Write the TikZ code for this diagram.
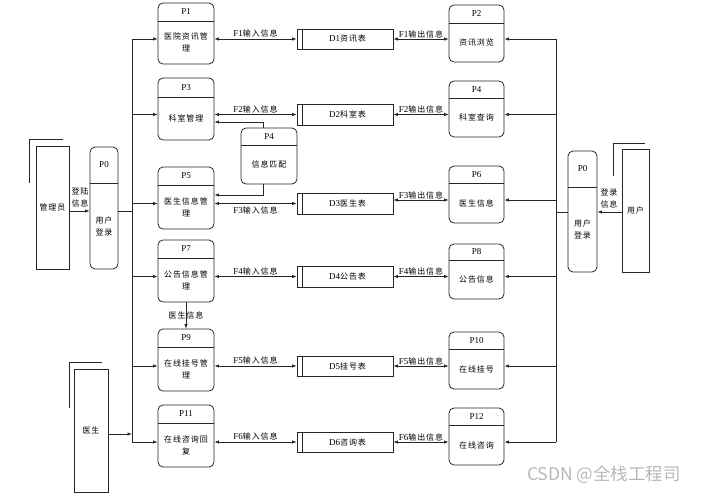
\documentclass[tikz,border=0pt]{standalone}
\usepackage{fontspec}
\setmainfont{Liberation Serif}
\newfontfamily\cjk[LetterSpace=12]{Noto Sans CJK SC}
\newfontfamily\wmfont{Noto Sans CJK SC}
\usetikzlibrary{fit,arrows.meta}
\newcommand\zh[1]{{\cjk\fontsize{8}{12}\selectfont #1}}
\tikzset{
  ln/.style={line width=0.8pt, draw=black!85},
  pbox/.style={ln, rounded corners=5pt, inner sep=0pt},
  sbox/.style={ln, inner sep=0pt},
  ebox/.style={ln, inner sep=0pt},
  txt/.style={font=\fontsize{9}{12}\selectfont, inner sep=0pt},
  zht/.style={font=\cjk\fontsize{8}{12}\selectfont, inner sep=0pt, align=center},
  lbl/.style={font=\fontsize{9}{12}\selectfont, inner sep=0pt},
  flow/.style={ln, <->},
  arr/.style={ln, ->},
}
% name, x1, y1, x2, y2, divider y, title, body
\newcommand\mkproc[8]{%
  \node[pbox, fit={(#2,#3) (#4,#5)}] (#1) {};
  \draw[ln] (#1.west |- 0,#6) -- (#1.east |- 0,#6);
  \node[txt] at ({(#2+#4)/2},{(#3+#6)/2}) {#7};
  \node[zht] at ({(#2+#4)/2},{(#6+#5)/2}) {#8};
}
% name, x1, y1, x2, y2, number, text
\newcommand\mkstore[7]{%
  \node[sbox, fit={(#2,#3) (#4,#5)}] (#1) {};
  \draw[ln] (#2+5,#3) -- (#2+5,#5);
  \node[txt] at ({(#2+5+#4)/2},{(#3+#5)/2}) {#6\zh{#7}};
}
\begin{document}
\begin{tikzpicture}[x=1pt, y=-1pt, >={Latex[length=4.5pt,width=3.5pt]}]
\useasboundingbox (0,0) rectangle (703,495);

% processes, left column
\mkproc{p1}{158}{3}{214}{64}{21}{P1}{医院资讯管\\理}
\mkproc{p3}{158}{78}{214}{140}{97}{P3}{科室管理}
\mkproc{p5}{158}{167}{214}{229}{185}{P5}{医生信息管\\理}
\mkproc{p7}{158}{240}{214}{302}{258}{P7}{公告信息管\\理}
\mkproc{p9}{158}{329}{214}{391}{347}{P9}{在线挂号管\\理}
\mkproc{p11}{158}{405}{214}{467}{423}{P11}{在线咨询回\\复}
% middle process
\mkproc{p4m}{241}{128}{297}{184}{145}{P4}{信息匹配}
% processes, right column
\mkproc{p2}{449}{5}{504}{62}{23}{P2}{资讯浏览}
\mkproc{p4}{449}{81}{504}{137}{98}{P4}{科室查询}
\mkproc{p6}{449}{166}{504}{223}{183}{P6}{医生信息}
\mkproc{p8}{449}{244}{504}{299}{260}{P8}{公告信息}
\mkproc{p10}{449}{332}{504}{389}{349}{P10}{在线挂号}
\mkproc{p12}{449}{408}{504}{465}{425}{P12}{在线咨询}
% login processes
\mkproc{p0l}{90}{147}{118}{269}{183}{P0}{用户\\登录}
\mkproc{p0r}{568}{151}{597}{272}{187}{P0}{用户\\登录}

% data stores
\mkstore{d1}{297}{29}{393}{49}{D1}{资讯表}
\mkstore{d2}{297}{104}{393}{125}{D2}{科室表}
\mkstore{d3}{297}{193}{393}{214}{D3}{医生表}
\mkstore{d4}{297}{266}{393}{287}{D4}{公告表}
\mkstore{d5}{297}{356}{393}{376}{D5}{挂号表}
\mkstore{d6}{297}{432}{393}{452}{D6}{咨询表}

% external entities
\node[ebox, minimum width=33pt, minimum height=123pt] (adm) at (52.5,207.5) {\zh{管理员}};
\draw[ln] (29,183) -- (29,139) -- (63,139);
\node[ebox, minimum width=27pt, minimum height=123pt] (usr) at (635.5,210.5) {\zh{用户}};
\draw[ln] (613,176) -- (613,143) -- (645,143);
\node[ebox, minimum width=34pt, minimum height=123pt] (doc) at (91,430.5) {\zh{医生}};
\draw[ln] (69,408) -- (69,362) -- (102,362);

% bus coordinates
\coordinate (bl) at (132,0);
\coordinate (br) at (556,0);
\coordinate (l0) at (118,211);
\coordinate (r0) at (597,212);
\coordinate (dl) at (108,434);
\coordinate (f3r) at ([yshift=3.5pt]d3.east);

% left bus
\draw[ln] (bl |- d1.west) -- (bl |- d6.west);
\foreach \p/\d in {p1/d1,p3/d2,p5/d3,p7/d4,p9/d5,p11/d6}
  \draw[arr] (bl |- \d.west) -- (\p.west |- \d.west);
\draw[ln] (p0l.east |- l0) -- (bl |- l0);
\draw[arr] (adm.east |- l0) -- (p0l.west |- l0);
\node[zht] at (80,197) {登陆\\信息};
\draw[arr] (doc.east |- dl) -- (bl |- dl);

% right bus
\draw[ln] (br |- d1.east) -- (br |- d6.east);
\foreach \p/\d in {p2/d1,p4/d2,p8/d4,p10/d5,p12/d6}
  \draw[arr] (br |- \d.east) -- (\p.east |- \d.east);
\draw[arr] (br |- f3r) -- (f3r -| p6.east);
\draw[ln] (p0r.west |- r0) -- (br |- r0);
\draw[arr] (usr.west |- r0) -- (p0r.east |- r0);
\node[zht] at (609,198) {登录\\信息};

% data flows, left
\draw[flow] (p1.east |- d1.west) -- (d1.west) node[midway, above=1pt, lbl] {F1\zh{输入信息}};
\draw[flow] (p3.east |- d2.west) -- (d2.west) node[midway, above=1pt, lbl] {F2\zh{输入信息}};
\draw[flow] (p5.east |- d3.west) -- (d3.west) node[midway, below=3pt, lbl] {F3\zh{输入信息}};
\draw[flow] (p7.east |- d4.west) -- (d4.west) node[midway, above=1pt, lbl] {F4\zh{输入信息}};
\draw[flow] (p9.east |- d5.west) -- (d5.west) node[midway, above=1pt, lbl] {F5\zh{输入信息}};
\draw[flow] (p11.east |- d6.west) -- (d6.west) node[midway, above=1pt, lbl] {F6\zh{输入信息}};

% data flows, right
\draw[flow] (d1.east) -- (p2.west |- d1.east) node[midway, above=0.5pt, lbl] {F1\zh{输出信息}};
\draw[flow] (d2.east) -- (p4.west |- d2.east) node[midway, above=0.5pt, lbl] {F2\zh{输出信息}};
\draw[flow] (f3r) -- (f3r -| p6.west) node[midway, above=0.5pt, lbl] {F3\zh{输出信息}};
\draw[flow] (d4.east) -- (p8.west |- d4.east) node[midway, above=0.5pt, lbl] {F4\zh{输出信息}};
\draw[flow] (d5.east) -- (p10.west |- d5.east) node[midway, above=0.5pt, lbl] {F5\zh{输出信息}};
\draw[flow] (d6.east) -- (p12.west |- d6.east) node[midway, above=0.5pt, lbl] {F6\zh{输出信息}};

% information matching
\draw[arr] ([xshift=-6pt]p4m.north) |- (p3.east |- 0,122);
\draw[arr] ([xshift=-6pt]p4m.south) |- (p5.east |- 0,195);

% P7 -> P9
\draw[arr] (p7.south) -- (p9.north) node[midway, zht] {医生信息};

% watermark
\node[font=\wmfont\fontsize{17.5}{18}\selectfont, text=black!28, inner sep=0pt] at (604,475) {CSDN @全栈工程司};
\end{tikzpicture}
\end{document}
